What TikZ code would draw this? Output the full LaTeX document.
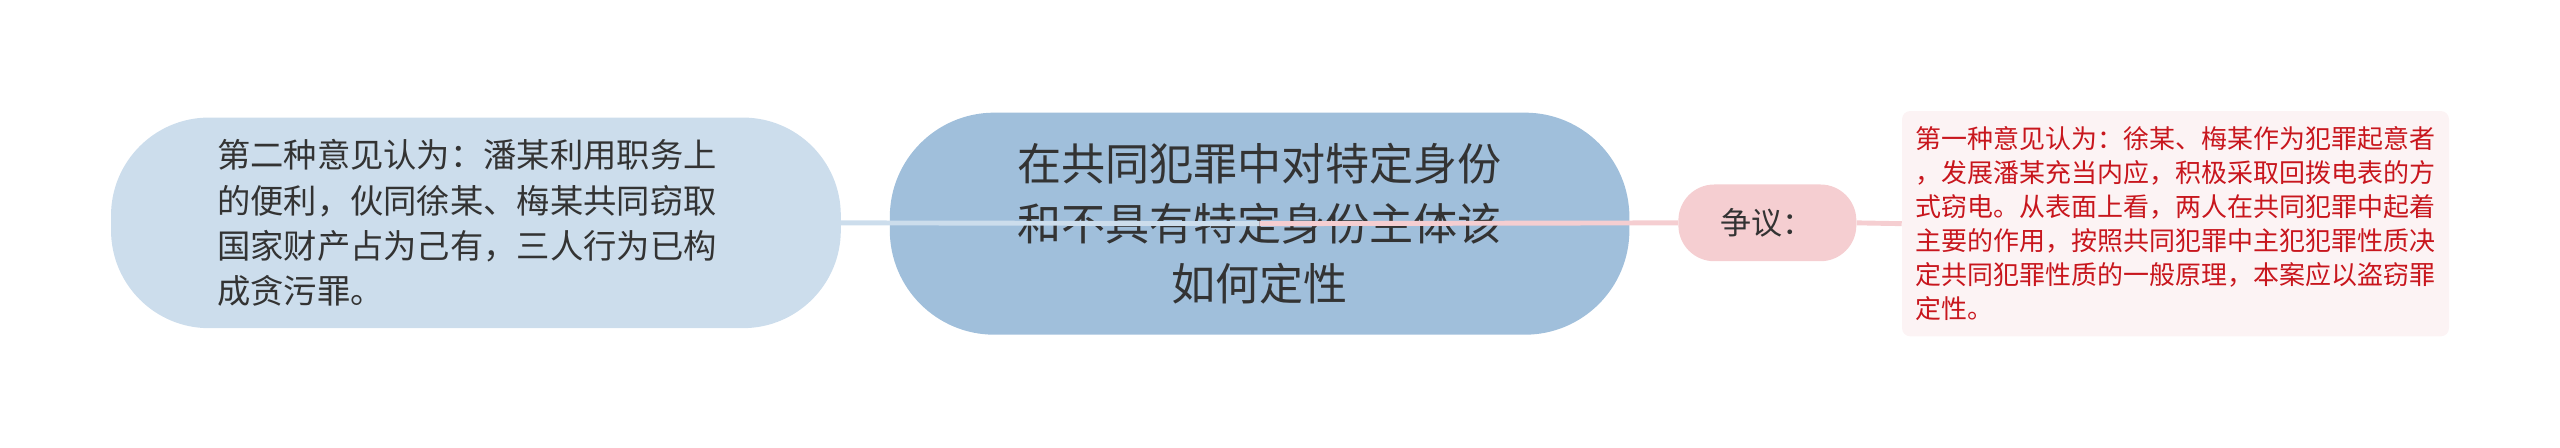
\documentclass[tikz,border=0pt]{standalone}
\usepackage{fontspec}
\setmainfont{Noto Sans CJK SC}
\definecolor{viewfill}{HTML}{CCDDEC}
\definecolor{topicfill}{HTML}{A0BFDB}
\definecolor{disputefill}{HTML}{F5CED1}
\definecolor{notefill}{HTML}{FCF3F4}
\definecolor{notetext}{HTML}{C8161D}
\definecolor{darktext}{HTML}{333333}

\begin{document}
\begin{tikzpicture}[x=1pt,y=1pt]
                        \tikzstyle{topic}=[fill=topicfill, rounded corners=64pt, minimum width=453pt, minimum height=136pt, inner sep=0pt, align=center, text=darktext, font=\fontsize{27}{36.5}\selectfont]
                        \tikzstyle{view}=[fill=viewfill, rounded corners=60pt, minimum width=447pt, minimum height=129pt, inner sep=0pt, text width=317pt, align=left, text=darktext, font=\fontsize{20.4}{27.6}\selectfont]
                        \tikzstyle{dispute}=[fill=disputefill, rounded corners=22pt, minimum width=109pt, minimum height=47pt, inner sep=0pt, text=darktext, font=\fontsize{19}{22}\selectfont]
                        \tikzstyle{note}=[fill=notefill, rounded corners=5pt, minimum width=335pt, minimum height=138pt, inner sep=0pt, align=left, text=notetext, font=\fontsize{15.9}{20.8}\selectfont]
                        \tikzstyle{bluelink}=[draw=viewfill, line width=3pt]
                        \tikzstyle{pinklink}=[draw=disputefill, line width=3pt]
                        \useasboundingbox (0,0) rectangle (1568,274);
                        \node[topic] (topic) at (771.5,137) {在共同犯罪中对特定身份\\和不具有特定身份主体该\\如何定性};
                        \node[view] (second) at (291.5,137.5) {第二种意见认为：潘某利用职务上\\的便利，伙同徐某、梅某共同窃取\\国家财产占为己有，三人行为已构\\成贪污罪。};
                        \node[dispute] (dispute) at (1082.5,137.5) {争议：};
                        \node[note] (first) at (1332.5,137) {第一种意见认为：徐某、梅某作为犯罪起意者\\，发展潘某充当内应，积极采取回拨电表的方\\式窃电。从表面上看，两人在共同犯罪中起着\\主要的作用，按照共同犯罪中主犯犯罪性质决\\定共同犯罪性质的一般原理，本案应以盗窃罪\\定性。};
                        \draw[bluelink] (second.east) -- (topic.center);
                        \draw[pinklink] (topic.center) -- (dispute.west);
                        \draw[pinklink] (dispute.east) -- (first.west);
\end{tikzpicture}
\end{document}
